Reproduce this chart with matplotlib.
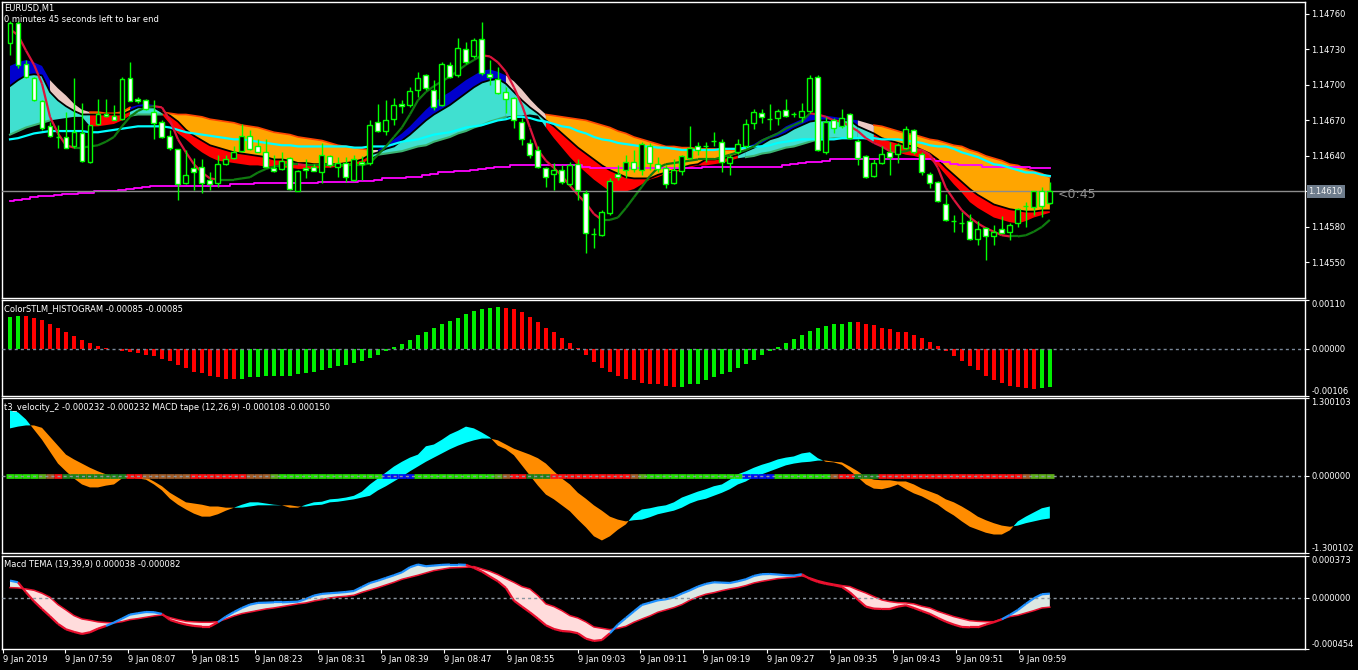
import numpy as np
import matplotlib.pyplot as plt
from matplotlib.collections import LineCollection

W, H = 1358, 670

# ---- EURUSD M1 quotes, in points above 1.14000 ----
open_pts = [735, 752, 718, 706, 686, 665, 656, 656, 648, 659,
            635, 667, 675, 674, 671, 706, 688, 687, 677, 669,
            657, 646, 617, 630, 631, 620, 617, 633, 638, 644,
            657, 648, 643, 630, 629, 638, 610, 630, 631, 626,
            640, 631, 634, 620, 635, 634, 669, 661, 671, 684,
            683, 696, 708, 696, 683, 717, 708, 730, 724, 739,
            709, 705, 694, 689, 669, 651, 645, 630, 625, 628,
            616, 633, 609, 574, 573, 592, 625, 628, 635, 628,
            648, 633, 630, 617, 627, 638, 648, 648, 653, 652,
            634, 643, 648, 668, 676, 671, 672, 679, 675, 673,
            678, 707, 643, 670, 665, 675, 653, 640, 623, 634,
            643, 642, 647, 662, 642, 625, 618, 599, 585, 583,
            585, 570, 579, 572, 578, 576, 583, 598, 597, 610,
            600]
high_pts = [754, 754, 721, 707, 687, 669, 666, 677, 706, 685,
            666, 688, 688, 683, 707, 719, 690, 688, 687, 670,
            662, 646, 645, 638, 637, 626, 641, 641, 648, 667,
            662, 654, 654, 641, 643, 639, 628, 637, 633, 651,
            641, 639, 639, 641, 640, 670, 684, 687, 689, 687,
            698, 711, 709, 704, 719, 719, 740, 736, 740, 753,
            721, 715, 698, 690, 672, 654, 648, 631, 634, 632,
            635, 637, 611, 579, 594, 621, 632, 641, 645, 652,
            651, 639, 632, 637, 641, 665, 652, 652, 660, 654,
            641, 654, 671, 680, 680, 684, 680, 688, 677, 685,
            708, 708, 673, 672, 680, 676, 654, 641, 637, 648,
            652, 651, 665, 663, 643, 626, 619, 608, 590, 593,
            591, 585, 580, 582, 589, 583, 596, 601, 610, 614,
            618]
low_pts = [725, 714, 706, 686, 662, 656, 647, 647, 647, 635,
           634, 666, 673, 670, 670, 686, 685, 679, 654, 655,
           645, 603, 616, 611, 609, 611, 614, 632, 637, 643,
           645, 643, 631, 626, 628, 611, 610, 621, 627, 617,
           631, 622, 618, 619, 620, 632, 660, 658, 666, 676,
           681, 690, 696, 679, 682, 706, 707, 718, 723, 708,
           700, 692, 676, 664, 649, 638, 630, 614, 611, 616,
           615, 603, 558, 562, 572, 590, 620, 621, 626, 624,
           628, 626, 613, 616, 624, 637, 641, 635, 648, 626,
           624, 642, 647, 663, 668, 662, 666, 673, 673, 669,
           676, 644, 642, 659, 664, 654, 632, 621, 622, 633,
           624, 634, 646, 642, 624, 613, 601, 585, 576, 576,
           569, 565, 552, 565, 575, 569, 580, 580, 590, 588,
           599]
close_pts = [752, 717, 707, 687, 664, 657, 656, 647, 660, 636,
             666, 675, 674, 670, 705, 686, 686, 680, 668, 656,
             647, 616, 624, 626, 617, 616, 633, 637, 643, 657,
             646, 643, 631, 627, 636, 612, 627, 628, 627, 641,
             632, 634, 622, 637, 633, 666, 661, 670, 683, 682,
             695, 706, 697, 681, 718, 707, 731, 719, 738, 710,
             707, 693, 688, 670, 654, 641, 631, 622, 628, 618,
             632, 611, 575, 574, 593, 619, 622, 635, 629, 650,
             634, 629, 616, 628, 640, 647, 645, 648, 653, 635,
             639, 650, 667, 677, 673, 671, 678, 674, 675, 678,
             706, 645, 669, 664, 672, 655, 638, 622, 634, 642,
             639, 649, 663, 643, 626, 617, 602, 586, 585, 583,
             570, 578, 572, 576, 575, 582, 595, 598, 610, 598,
             610]

# moving averages on the price window (points above 1.14000)
ma_slow = [602, 603, 604, 605, 606, 606, 607, 608, 608, 609,
           609, 610, 610, 610, 611, 612, 613, 614, 615, 615,
           615, 615, 615, 615, 615, 615, 615, 615, 616, 616,
           616, 617, 617, 617, 617, 617, 617, 617, 617, 618,
           618, 618, 618, 618, 619, 619, 620, 621, 621, 621,
           622, 622, 624, 625, 626, 626, 627, 627, 628, 629,
           630, 631, 631, 632, 632, 632, 632, 632, 632, 632,
           632, 632, 631, 630, 630, 630, 630, 630, 630, 630,
           630, 630, 630, 630, 630, 630, 630, 631, 631, 631,
           631, 631, 631, 631, 631, 631, 631, 632, 633, 634,
           635, 635, 636, 637, 637, 637, 637, 637, 637, 637,
           637, 637, 637, 637, 637, 637, 636, 635, 633, 632,
           632, 632, 631, 631, 631, 631, 631, 631, 630, 630,
           630]
ma_mid = [654, 655, 657, 659, 660, 661, 661, 661, 661, 661,
          660, 660, 661, 662, 663, 664, 665, 665, 665, 665,
          664, 662, 660, 659, 658, 657, 656, 655, 654, 654,
          653, 652, 651, 650, 649, 649, 648, 648, 648, 648,
          648, 648, 648, 647, 647, 648, 648, 648, 650, 652,
          653, 654, 656, 658, 659, 660, 662, 664, 665, 666,
          668, 670, 671, 673, 673, 672, 670, 669, 667, 665,
          664, 661, 659, 656, 654, 653, 651, 650, 649, 648,
          648, 647, 647, 646, 645, 645, 645, 645, 645, 646,
          646, 646, 647, 648, 648, 649, 651, 652, 653, 654,
          654, 654, 654, 654, 655, 655, 655, 655, 655, 654,
          654, 654, 653, 652, 651, 649, 648, 648, 646, 643,
          641, 639, 636, 633, 632, 630, 628, 626, 626, 624,
          623]
trail = [747, 742, 729, 717, 701, 673, 659, 649, 647, 647,
         648, 649, 652, 656, 665, 673, 678, 681, 682, 681,
         670, 654, 643, 633, 626, 621, 620, 620, 620, 621,
         622, 626, 629, 631, 632, 633, 633, 632, 632, 632,
         632, 632, 632, 632, 632, 634, 641, 648, 656, 664,
         675, 687, 694, 699, 703, 707, 712, 717, 721, 725,
         724, 719, 711, 698, 683, 664, 645, 636, 630, 623,
         615, 607, 600, 591, 586, 586, 588, 596, 605, 614,
         623, 630, 633, 634, 635, 636, 637, 637, 637, 639,
         641, 643, 645, 648, 653, 656, 659, 663, 666, 669,
         676, 675, 673, 670, 669, 665, 661, 655, 651, 648,
         644, 643, 644, 646, 645, 641, 630, 613, 603, 594,
         588, 583, 579, 576, 573, 572, 572, 573, 576, 580,
         586]

# ribbon: upper edge, middle line, lower edge
rib_top = [716, 719, 721, 719, 716, 704, 697, 691, 684, 679,
           677, 677, 676, 676, 677, 681, 683, 684, 683,
           677, 676, 675, 675, 674, 673, 671, 670, 669, 668, 666, 665,
           664, 662, 660, 659, 658, 656, 655, 654, 653, 651, 649, 648,
           647, 646, 645,
           645, 649, 654, 659, 665, 672, 679, 685, 690, 694, 699, 704,
           708, 712, 713, 711,
           708, 703, 696, 688, 681,
           675, 674, 673, 672, 671, 670, 668, 666, 664, 661, 659, 656,
           654, 652, 650, 648, 648, 647, 647, 646,
           646, 646, 645, 645, 645,
           647, 650, 654, 657, 660, 665, 668, 671, 675, 675, 674, 673, 672, 671,
           670, 668, 666, 665, 663, 661,
           659, 658, 656, 654, 653, 651, 649, 648, 645, 643, 640, 638,
           636, 633, 632, 629, 627, 625, 622]
rib_mid = [699, 704, 708, 709, 708, 694, 687, 682, 678, 675,
           675, 675, 675, 675, 675, 678, 681, 681, 681,
           677, 674, 669, 662, 657, 653, 649, 647, 645, 643, 642, 641,
           640, 639, 637, 637, 636, 634, 634, 633, 633, 633, 633, 634,
           635, 637, 641,
           643, 646, 648, 653, 658, 664, 670, 675, 679, 683, 688, 693,
           698, 702, 704, 705,
           701, 694, 687, 681, 676,
           670, 665, 659, 653, 647, 642, 637, 632, 628, 625, 622, 621,
           621, 621, 624, 626, 628, 630, 632, 633,
           637, 637, 638, 639, 641,
           644, 647, 650, 654, 656, 659, 663, 666, 669, 670, 670, 670, 670, 670,
           665, 662, 659, 655, 653, 651,
           649, 648, 645, 642, 637, 630, 624, 618, 612, 607, 603, 599,
           597, 595, 594, 593, 593, 594, 594]
rib_bot = [658, 661, 664, 666, 668, 670, 671, 672, 673, 673,
           665, 665, 666, 667, 670, 674, 675, 675, 675,
           675, 667, 659, 654, 648, 643, 639, 636, 635, 634, 633, 632,
           632, 631, 631, 630, 630, 629, 629, 629, 630, 630, 631, 631,
           632, 633, 638,
           641, 642, 643, 644, 646, 648, 649, 652, 654, 656, 659, 661,
           664, 666, 669, 671,
           673, 674, 674, 675, 674,
           664, 655, 647, 639, 632, 626, 620, 615, 610, 610, 610, 612,
           616, 620, 622, 625, 626, 628, 630, 632,
           632, 633, 634, 636, 638,
           639, 640, 642, 643, 645, 647, 648, 650, 652, 654, 654, 655, 655, 655,
           655, 654, 652, 648, 645, 643,
           641, 640, 638, 637, 632, 624, 616, 609, 601, 596, 592, 588,
           586, 584, 583, 585, 588, 590, 592]
# u = rising, d = falling, p = turning
ribbon_runs = [('u', 5), ('p', 5), ('d', 5), ('u', 4), ('d', 26), ('p', 1),
               ('u', 16), ('p', 5), ('d', 24), ('p', 1), ('u', 14), ('p', 2),
               ('d', 23)]

# ColorSTLM histogram, in 1e-5
stlm = [71, 73, 74, 69, 64, 55, 46, 37, 30, 21,
        14, 7, 2, -1, -4, -7, -9, -14, -16, -23,
        -28, -37, -44, -51, -55, -60, -64, -67, -67, -67,
        -64, -64, -62, -62, -60, -60, -57, -55, -53, -48,
        -44, -39, -37, -32, -28, -21, -14, -5, 5, 11,
        21, 32, 39, 46, 55, 62, 69, 78, 85, 90,
        92, 94, 92, 90, 83, 71, 60, 48, 37, 25,
        14, 2, -14, -30, -44, -53, -62, -67, -71, -76,
        -78, -80, -83, -85, -85, -80, -78, -71, -64, -57,
        -53, -44, -34, -25, -14, -5, 5, 14, 23, 32,
        41, 46, 51, 55, 57, 60, 60, 55, 53, 48,
        44, 39, 37, 32, 25, 16, 7, -5, -16, -28,
        -39, -48, -60, -69, -76, -83, -85, -87, -90, -89,
        -85]
stlm_runs = [('g', 2), ('r', 27), ('g', 33), ('r', 22), ('g', 22), ('r', 23), ('g', 2)]

# t3 velocity band (fast / slow)
t3_fast = [1.09, 1.06, 0.94, 0.77, 0.60, 0.40, 0.20, 0.07, -0.05, -0.15,
           -0.20, -0.20, -0.17, -0.15, -0.05, -0.03, -0.05, -0.07, -0.15, -0.25,
           -0.39, -0.49, -0.57, -0.64, -0.69, -0.69, -0.65, -0.59, -0.54, -0.49,
           -0.45, -0.45, -0.47, -0.49, -0.50, -0.54, -0.54, -0.49, -0.45, -0.44,
           -0.40, -0.39, -0.37, -0.34, -0.27, -0.15, -0.05, 0.05, 0.15, 0.23,
           0.30, 0.35, 0.49, 0.52, 0.60, 0.69, 0.75, 0.82, 0.79, 0.72,
           0.64, 0.50, 0.44, 0.34, 0.17, 0.00, -0.17, -0.32, -0.40, -0.50,
           -0.60, -0.74, -0.87, -1.02, -1.09, -1.02, -0.91, -0.82, -0.65, -0.57,
           -0.55, -0.52, -0.50, -0.45, -0.37, -0.32, -0.27, -0.23, -0.18, -0.15,
           -0.07, 0.02, 0.07, 0.13, 0.18, 0.22, 0.27, 0.30, 0.32, 0.37,
           0.39, 0.29, 0.23, 0.22, 0.18, 0.08, -0.03, -0.15, -0.22, -0.23,
           -0.20, -0.15, -0.23, -0.30, -0.35, -0.42, -0.49, -0.59, -0.67, -0.77,
           -0.86, -0.91, -0.96, -0.99, -0.99, -0.92, -0.77, -0.69, -0.62, -0.55,
           -0.52]
t3_slow = [0.79, 0.82, 0.84, 0.84, 0.80, 0.65, 0.50, 0.35, 0.27, 0.20,
           0.13, 0.07, 0.02, -0.02, -0.03, -0.02, -0.02, -0.03, -0.10, -0.18,
           -0.29, -0.37, -0.45, -0.47, -0.49, -0.52, -0.52, -0.54, -0.54, -0.54,
           -0.52, -0.50, -0.50, -0.50, -0.50, -0.50, -0.52, -0.52, -0.50, -0.49,
           -0.45, -0.44, -0.42, -0.40, -0.37, -0.34, -0.25, -0.18, -0.10, -0.02,
           0.07, 0.15, 0.23, 0.30, 0.37, 0.44, 0.50, 0.55, 0.59, 0.62,
           0.62, 0.59, 0.52, 0.45, 0.40, 0.35, 0.29, 0.20, 0.07, -0.05,
           -0.15, -0.29, -0.39, -0.50, -0.59, -0.69, -0.74, -0.77, -0.75, -0.74,
           -0.70, -0.65, -0.62, -0.59, -0.54, -0.47, -0.42, -0.39, -0.34, -0.29,
           -0.23, -0.15, -0.10, -0.02, 0.02, 0.07, 0.12, 0.17, 0.20, 0.22,
           0.23, 0.25, 0.25, 0.23, 0.22, 0.15, 0.07, -0.03, -0.07, -0.08,
           -0.08, -0.10, -0.10, -0.15, -0.22, -0.27, -0.32, -0.40, -0.45, -0.52,
           -0.60, -0.69, -0.75, -0.80, -0.84, -0.86, -0.84, -0.80, -0.77, -0.74,
           -0.72]
# MACD tape colours: L lime, O olive, B brown, R red, D dark green, U blue
tape_runs = [('L', 4), ('O', 1), ('B', 1), ('R', 1), ('D', 8), ('R', 2), ('B', 6),
             ('R', 7), ('B', 3), ('O', 1), ('L', 13), ('U', 4), ('L', 10), ('O', 1),
             ('B', 1), ('R', 2), ('D', 3), ('R', 10), ('B', 1), ('O', 1), ('L', 12),
             ('U', 4), ('L', 7), ('B', 1), ('R', 2), ('D', 3), ('R', 18), ('B', 1),
             ('O', 3)]

# Macd TEMA (19,39,9), in 1e-6
tema_macd = [154, 139, 50, -30, -98, -163, -231, -279, -302, -320,
             -305, -273, -249, -219, -184, -148, -136, -125, -127, -142,
             -196, -219, -237, -249, -255, -255, -216, -166, -125, -89,
             -59, -44, -42, -39, -39, -36, -33, -9, 21, 36,
             42, 47, 53, 62, 98, 133, 154, 178, 202, 228,
             273, 297, 282, 288, 294, 297, 297, 294, 267, 234,
             190, 148, 89, -24, -77, -128, -184, -243, -276, -294,
             -299, -314, -362, -382, -374, -314, -237, -178, -119, -62,
             -42, -21, -12, 6, 39, 68, 101, 125, 139, 136,
             133, 148, 166, 196, 211, 213, 208, 202, 199, 211,
             169, 142, 125, 113, 98, 50, -15, -77, -95, -98,
             -98, -77, -65, -89, -116, -142, -178, -211, -237, -258,
             -261, -261, -237, -216, -190, -151, -107, -53, -3, 33,
             38]
tema_signal = [92, 89, 80, 68, 42, 6, -59, -107, -157, -187,
               -199, -213, -219, -222, -211, -193, -184, -172, -160, -151,
               -175, -193, -208, -213, -216, -216, -211, -187, -160, -139,
               -125, -110, -98, -89, -77, -65, -53, -44, -27, -15,
               0, 9, 15, 24, 50, 71, 92, 116, 139, 166,
               184, 202, 222, 243, 255, 267, 270, 273, 279, 258,
               237, 208, 172, 139, 101, 80, 21, -53, -77, -113,
               -157, -178, -213, -258, -270, -282, -270, -252, -216, -187,
               -160, -127, -107, -86, -59, -21, 9, 33, 47, 65,
               80, 92, 110, 133, 148, 160, 172, 178, 184, 196,
               178, 154, 136, 122, 110, 101, 71, 44, 12, -18,
               -33, -42, -44, -53, -74, -89, -119, -142, -166, -184,
               -202, -208, -211, -211, -187, -166, -154, -133, -113, -89,
               -82]

time_labels = ['9 Jan 2019', '9 Jan 07:59', '9 Jan 08:07', '9 Jan 08:15',
               '9 Jan 08:23', '9 Jan 08:31', '9 Jan 08:39', '9 Jan 08:47',
               '9 Jan 08:55', '9 Jan 09:03', '9 Jan 09:11', '9 Jan 09:19',
               '9 Jan 09:27', '9 Jan 09:35', '9 Jan 09:43', '9 Jan 09:51',
               '9 Jan 09:59']
time_ticks = [-0.9, 6.9, 14.8, 22.8, 30.6, 38.5, 46.4, 54.3, 62.1, 71.0,
              78.8, 86.7, 94.6, 102.5, 110.4, 118.3, 126.1]

bid = 1.14610


def expand(runs):
    out = []
    for code, n in runs:
        out += [code] * n
    return np.array(out)


def to_price(pts):
    return 1.14 + np.asarray(pts, dtype=float) / 1e5


def grow(mask):
    m = mask.copy()
    m[1:] |= mask[:-1]
    return m


x = np.arange(len(close_pts))
O, Hi, Lo, C = (to_price(v) for v in (open_pts, high_pts, low_pts, close_pts))

plt.rcParams['font.family'] = 'DejaVu Sans'
fig = plt.figure(figsize=(W / 100, H / 100), dpi=100, facecolor='black')


def px_axes(x0, y0, x1, y1):
    ax = fig.add_axes([x0 / W, 1 - y1 / H, (x1 - x0) / W, (y1 - y0) / H])
    ax.set_facecolor('black')
    for s in ax.spines.values():
        s.set_color('white')
        s.set_linewidth(1)
    ax.set_xlim(-1, 161.9)
    ax.yaxis.tick_right()
    ax.tick_params(axis='y', colors='white', labelsize=6, direction='out',
                   length=3, width=0.8, pad=1.5)
    ax.tick_params(axis='x', bottom=False, labelbottom=False)
    return ax


ax1 = px_axes(2, 2, 1305, 298)
ax2 = px_axes(2, 300, 1305, 396)
ax3 = px_axes(2, 398, 1305, 553)
ax4 = px_axes(2, 556, 1305, 649)

# ---- main window ----
T, K, B = to_price(rib_top), to_price(rib_mid), to_price(rib_bot)
state = expand(ribbon_runs)
upper_col = {'u': '#0000CD', 'd': '#FFA500', 'p': '#EBC9C3'}
lower_col = {'u': '#40E0D0', 'd': '#FF0000', 'p': '#40E0D0'}
for code in 'dup':
    m = grow(state == code)
    ax1.fill_between(x, T, K, where=m, color=upper_col[code], lw=0, zorder=1)
    ax1.fill_between(x, K, B, where=m, color=lower_col[code], lw=0, zorder=1)
ax1.plot(x, np.where(grow(state == 'd'), T, np.nan), color='#FF4500', lw=1.2, zorder=2)
ax1.plot(x, np.where(grow(state == 'u'), B, np.nan), color='#3CB371', lw=1.5, zorder=2)
ax1.plot(x, K, color='black', lw=1.3, zorder=2)

ax1.plot(x, to_price(ma_slow), color='#FF00FF', lw=1.3, drawstyle='steps-mid', zorder=3)
ax1.plot(x, to_price(ma_mid), color='#00FFFF', lw=1.6, zorder=3)

tr = to_price(trail)
segs = [[(x[i], tr[i]), (x[i + 1], tr[i + 1])] for i in range(len(x) - 1)]
seg_cols = ['#DC143C' if tr[i + 1] < tr[i] else '#0F7A0F' for i in range(len(x) - 1)]
ax1.add_collection(LineCollection(segs, colors=seg_cols, linewidths=1.6, zorder=3))

ax1.axhline(bid, color='#8C8C8C', lw=1, zorder=4)

ax1.vlines(x, Lo, Hi, color='#00FF00', lw=1, zorder=5)
face = np.where(C > O, 'black', 'white')
ax1.bar(x, np.abs(C - O), bottom=np.minimum(O, C), width=0.62, color=face,
        edgecolor='#00FF00', linewidth=1, zorder=6)

ax1.set_ylim(1.14520, 1.14770)
ax1.set_yticks([1.1455, 1.1458, 1.1461, 1.1464, 1.1467, 1.1470, 1.1473, 1.1476])
ax1.set_yticklabels(['%.5f' % v for v in ax1.get_yticks()])
ax1.text(131.0, 1.14607, '<0:45', color='#8E8E8E', fontsize=9, va='center', ha='left')
fig.text(1308.5 / W, 1 - 191.5 / H, '1.14610', color='#F2F2F2', fontsize=6,
         va='center', ha='left',
         bbox=dict(boxstyle='square,pad=0.22', fc='#6E7C8C', ec='none'))

# ---- ColorSTLM histogram ----
hcol = np.where(expand(stlm_runs) == 'g', '#00EE00', '#FF0000')
ax2.bar(x, np.array(stlm) / 1e5, width=0.56, color=hcol, zorder=2)
ax2.axhline(0, color='#7A8899', lw=1, ls=(0, (2.2, 2.2)), zorder=3)
ax2.set_ylim(-0.00106, 0.00110)
ax2.set_yticks([-0.00106, 0.0, 0.00110])
ax2.set_yticklabels(['-0.00106', '0.00000', '0.00110'])

# ---- t3 velocity + MACD tape ----
fa, sl = np.array(t3_fast), np.array(t3_slow)
ax3.fill_between(x, fa, sl, where=fa >= sl, interpolate=True, color='#00FFFF', lw=0, zorder=1)
ax3.fill_between(x, fa, sl, where=fa < sl, interpolate=True, color='#FF8C00', lw=0, zorder=1)
tape_colors = {'L': '#22E000', 'O': '#5CAE18', 'B': '#A05C28', 'R': '#FF1010',
               'D': '#1A801A', 'U': '#0010F0'}
tcodes = expand(tape_runs)
tsegs = [[(max(i - 0.5, -1), 0), (i + 0.5, 0)] for i in x]
ax3.add_collection(LineCollection(tsegs, colors=[tape_colors[c] for c in tcodes],
                                  linewidths=3.4, zorder=2))
ax3.axhline(0, color='#8C96A0', lw=1, ls=(0, (2.2, 2.2)), zorder=3)
ax3.set_ylim(-1.300102, 1.300103)
ax3.set_yticks([-1.300102, 0.0, 1.300103])
ax3.set_yticklabels(['-1.300102', '0.000000', '1.300103'])

# ---- Macd TEMA ----
mc, sg = np.array(tema_macd) / 1e6, np.array(tema_signal) / 1e6
ax4.fill_between(x, mc, sg, where=mc >= sg, interpolate=True, color='#DCE8E3', lw=0, zorder=1)
ax4.fill_between(x, mc, sg, where=mc < sg, interpolate=True, color='#FFDCDC', lw=0, zorder=1)
ax4.plot(x, sg, color='#E8102E', lw=1.1, zorder=2)
msegs = [[(x[i], mc[i]), (x[i + 1], mc[i + 1])] for i in range(len(x) - 1)]
mcols = ['#1E90FF' if mc[i + 1] >= sg[i + 1] else '#E8102E' for i in range(len(x) - 1)]
ax4.add_collection(LineCollection(msegs, colors=mcols, linewidths=1.6, zorder=3))
ax4.axhline(0, color='#8C96A0', lw=1, ls=(0, (2.2, 2.2)), zorder=4)
ax4.set_ylim(-0.000454, 0.000373)
ax4.set_yticks([-0.000454, 0.0, 0.000373])
ax4.set_yticklabels(['-0.000454', '0.000000', '0.000373'])

for ax in (ax2, ax3, ax4):
    labs = ax.get_yticklabels()
    labs[0].set_va('bottom')
    labs[-1].set_va('top')

ax4.tick_params(axis='x', bottom=True, labelbottom=True, colors='white',
                labelsize=6, direction='out', length=3, width=0.8, pad=1.5)
ax4.set_xticks(time_ticks)
ax4.set_xticklabels(time_labels, ha='left')

# ---- window captions ----
def caption(px, py, s):
    fig.text(px / W, 1 - py / H, s, color='white', fontsize=6, va='center', ha='left')


caption(4, 8, 'EURUSD,M1')
caption(4, 20, '0 minutes 45 seconds left to bar end')
caption(4, 309, 'ColorSTLM_HISTOGRAM -0.00085 -0.00085')
caption(4, 407, 't3_velocity_2 -0.000232 -0.000232 MACD tape (12,26,9) -0.000108 -0.000150')
caption(4, 565, 'Macd TEMA (19,39,9) 0.000038 -0.000082')

fig.savefig('out.png', dpi=100, facecolor='black')
